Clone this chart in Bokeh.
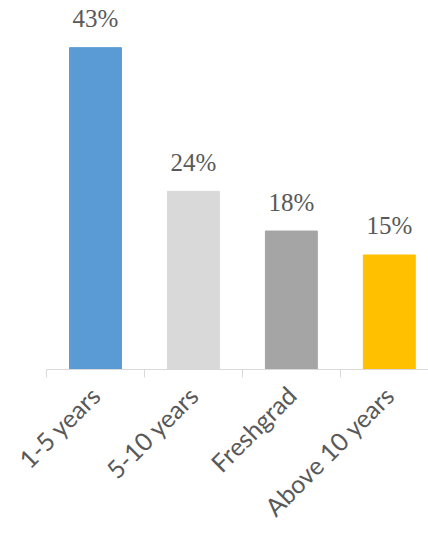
import math
from bokeh.plotting import figure
from bokeh.models import ColumnDataSource, Range1d, FixedTicker, LabelSet
from bokeh.embed import file_html
from bokeh.resources import INLINE

categories = ["1-5 years", "5-10 years", "Freshgrad", "Above 10 years"]
values = [43, 23.8, 18.5, 15.3]
labels = ["43%", "24%", "18%", "15%"]
colors = ["#5B9BD5", "#D9D9D9", "#A5A5A5", "#FFC000"]

FONT = "Lato, 'Open Sans', sans-serif"

xs = [i + 0.5 for i in range(len(categories))]
src = ColumnDataSource(dict(x=xs, top=values, label=labels, color=colors))

p = figure(width=428, height=540, output_backend="svg", toolbar_location=None,
           x_range=Range1d(0, 3.9), y_range=Range1d(0, 49.3),
           min_border_left=46, min_border_right=0, min_border_top=0, min_border_bottom=171)
p.outline_line_color = None
p.background_fill_color = "white"
p.border_fill_color = "white"
p.grid.visible = False
p.yaxis.visible = False

p.vbar(x="x", top="top", bottom=0, width=0.53, color="color", source=src)

lbl = LabelSet(x="x", y="top", text="label", source=src, text_align="center",
               text_baseline="middle", y_offset=29, text_font=FONT,
               text_font_size="25px", text_color="#595959")
p.add_layout(lbl)

ax = p.xaxis[0]
ax.ticker = FixedTicker(ticks=xs, minor_ticks=[0, 1, 2, 3, 4])
ax.major_label_overrides = {x: c for x, c in zip(xs, categories)}
ax.major_label_orientation = math.pi / 4
ax.major_tick_out = 0
ax.major_tick_in = 0
ax.minor_tick_out = 8
ax.minor_tick_in = 0
ax.minor_tick_line_color = "#D9D9D9"
ax.minor_tick_line_width = 1
ax.axis_line_color = "#D9D9D9"
ax.axis_line_width = 1
ax.major_label_text_font = FONT
ax.major_label_text_font_size = "25px"
ax.major_label_text_color = "#595959"
ax.major_label_standoff = 13

open("out.html", "w").write(file_html(p, INLINE))
